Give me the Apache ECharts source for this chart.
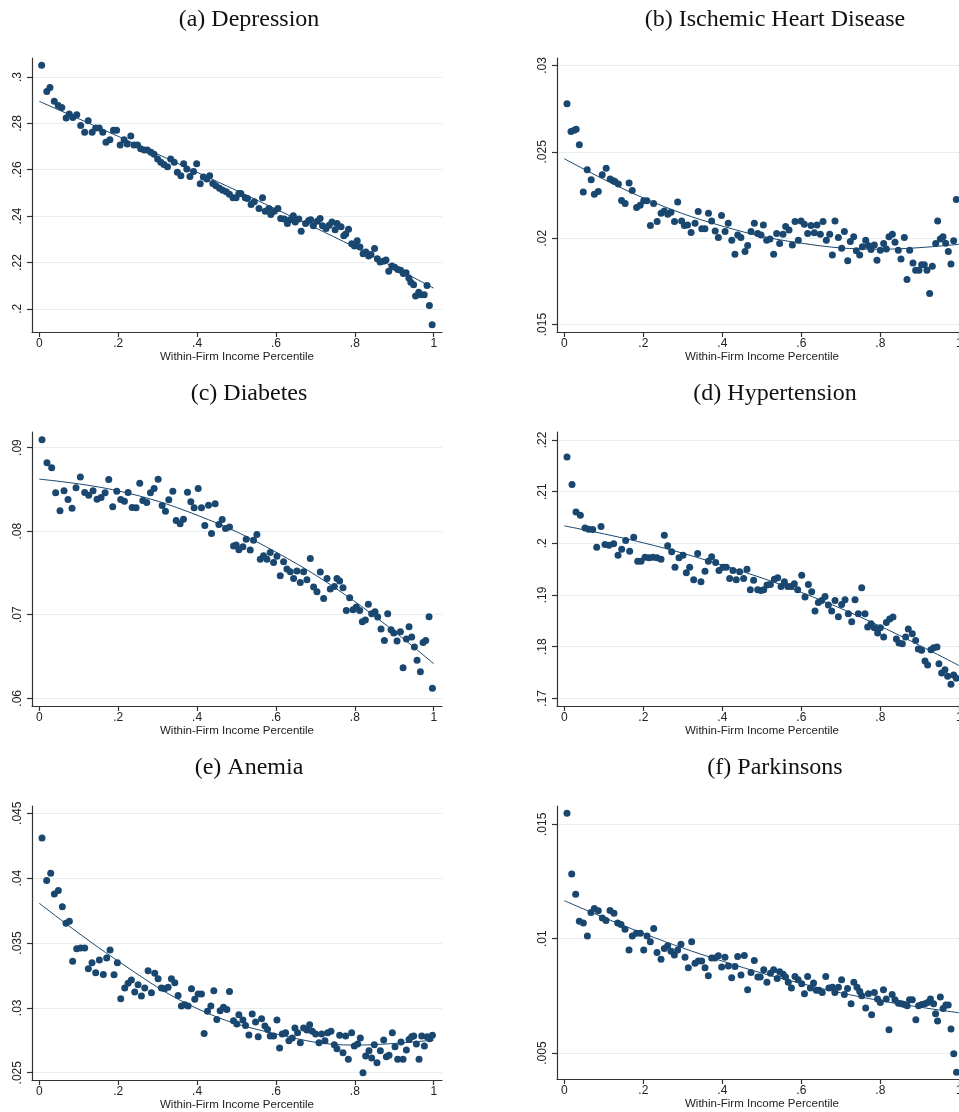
<!DOCTYPE html>
<html><head><meta charset="utf-8">
<script src="https://cdn.jsdelivr.net/npm/echarts@6/dist/echarts.min.js"></script>
<style>html,body{margin:0;padding:0;background:#fff}#c{width:959px;height:1112px}</style>
</head><body><div id="c"></div>
<script>
// ---------- DATA ----------
const titles = ["(a) Depression", "(b) Ischemic Heart Disease", "(c) Diabetes", "(d) Hypertension", "(e) Anemia", "(f) Parkinsons"];
const xAxisTitle = "Within-Firm Income Percentile";
const xTicks = [0, 0.2, 0.4, 0.6, 0.8, 1];
const yTicksA = [0.2, 0.22, 0.24, 0.26, 0.28, 0.3];
const yTicksB = [0.015, 0.02, 0.025, 0.03];
const yTicksC = [0.06, 0.07, 0.08, 0.09];
const yTicksD = [0.17, 0.18, 0.19, 0.2, 0.21, 0.22];
const yTicksE = [0.025, 0.03, 0.035, 0.04, 0.045];
const yTicksF = [0.005, 0.01, 0.015];

// (a) Depression
const xA = [0.006,0.019,0.027,0.038,0.048,0.057,0.068,0.076,0.085,0.095,0.105,0.115,0.124,0.134,0.143,0.152,0.161,0.169,0.179,0.188,0.196,0.205,0.215,0.223,0.232,0.240,0.249,0.257,0.266,0.274,0.283,0.291,0.300,0.308,0.316,0.325,0.333,0.342,0.350,0.359,0.366,0.374,0.382,0.391,0.399,0.408,0.416,0.425,0.432,0.440,0.448,0.457,0.465,0.474,0.482,0.491,0.499,0.506,
0.511,0.522,0.528,0.537,0.545,0.557,0.566,0.573,0.582,0.587,0.596,0.605,0.612,0.621,0.629,0.636,0.644,0.649,0.658,0.664,0.675,0.683,0.688,0.695,0.705,0.712,0.718,0.727,0.735,0.742,0.750,0.755,0.765,0.772,0.777,0.784,0.792,0.799,0.806,0.813,0.821,0.828,0.835,0.841,0.850,0.857,0.864,0.872,0.879,0.886,0.894,0.901,0.909,0.916,0.923,0.930,0.937,0.942,0.949,0.954,0.962,0.967,0.976,0.983,0.989,0.996];
const yA = [0.3051,0.2938,0.2955,0.2895,0.2877,0.2869,0.2823,0.2840,0.2825,0.2837,0.2791,0.2762,0.2811,0.2762,0.2780,0.2780,0.2762,0.2719,0.2729,0.2770,0.2770,0.2707,0.2729,0.2711,0.2745,0.2707,0.2707,0.2690,0.2685,0.2685,0.2675,0.2667,0.2646,0.2632,0.2623,0.2613,0.2646,0.2632,0.2589,0.2574,0.2626,0.2603,0.2571,0.2592,0.2626,0.2540,0.2569,0.2560,0.2574,0.2541,0.2531,0.2520,0.2512,0.2505,0.2494,0.2479,0.2479,0.2498,
0.2498,0.2479,0.2476,0.2450,0.2462,0.2433,0.2479,0.2421,0.2433,0.2407,0.2421,0.2433,0.2390,0.2387,0.2368,0.2384,0.2401,0.2375,0.2387,0.2335,0.2368,0.2381,0.2384,0.2358,0.2378,0.2390,0.2358,0.2346,0.2361,0.2375,0.2341,0.2368,0.2354,0.2315,0.2323,0.2343,0.2281,0.2271,0.2294,0.2267,0.2238,0.2245,0.2228,0.2234,0.2260,0.2216,0.2202,0.2205,0.2211,0.2162,0.2185,0.2179,0.2170,0.2166,0.2152,0.2156,0.2133,0.2115,0.2104,0.2055,0.2072,0.2061,0.2061,0.2101,0.2014,0.1931];

// (b) Ischemic Heart Disease
const xB = [0.0068,0.017,0.025,0.030,0.038,0.048,0.058,0.068,0.076,0.086,0.096,0.106,0.116,0.124,0.128,0.137,0.145,0.154,0.164,0.172,0.183,0.192,0.201,0.209,0.218,0.226,0.235,0.245,0.253,0.262,0.270,0.279,0.287,0.297,0.304,0.312,0.321,0.331,0.339,0.348,0.356,0.365,0.373,0.382,0.390,0.398,0.407,0.415,0.424,0.432,0.439,0.447,
0.4575,0.4642,0.4727,0.4811,0.4896,0.4981,0.504,0.5123,0.5207,0.53,0.5376,0.5452,0.5537,0.5604,0.5689,0.5773,0.5841,0.5925,0.5993,0.6077,0.6161,0.6246,0.633,0.6398,0.6482,0.655,0.6634,0.6719,0.6786,0.6853,0.6938,0.7022,0.709,0.7175,0.7241,0.7326,0.7393,0.7478,0.7545,0.763,0.7697,0.7765,0.7849,0.7916,0.8001,0.8085,0.8153,0.822,0.8305,0.8372,0.8456,0.8524,0.8608,0.8676,0.8743,0.8827,0.8895,0.8979,0.9046,0.9114,0.9181,0.9249,0.9317,0.9402,0.9452,0.9519,0.9587,0.9655,0.9722,0.9789,0.9857,0.9924];
const yB = [0.02778,0.02618,0.02625,0.02630,0.02541,0.02268,0.02396,0.02338,0.02255,0.0227,0.02367,0.02405,0.02342,0.02332,0.02328,0.02313,0.02218,0.02201,0.0232,0.02276,0.02178,0.0219,0.02216,0.02216,0.02073,0.02201,0.02097,0.02145,0.02158,0.02139,0.0215,0.02097,0.02209,0.021,0.02073,0.02077,0.02033,0.02087,0.02154,0.02054,0.02054,0.02145,0.021,0.02042,0.02004,0.02131,0.02039,0.02087,0.01988,0.01907,0.02019,0.02004,
0.01923,0.01958,0.02039,0.02087,0.02027,0.02019,0.02077,0.01988,0.01996,0.01907,0.02027,0.01969,0.02023,0.02068,0.02048,0.01961,0.02097,0.01988,0.021,0.02081,0.02027,0.02073,0.02031,0.02077,0.02023,0.02097,0.01988,0.02023,0.01903,0.021,0.02004,0.01942,0.02039,0.01869,0.01981,0.02008,0.01927,0.01903,0.0195,0.01988,0.01958,0.01934,0.01961,0.01873,0.0193,0.01969,0.01938,0.02008,0.02023,0.01977,0.0193,0.0188,0.02004,0.01761,0.0193,0.01857,0.01815,0.01815,0.01846,0.01846,0.01815,0.0168,0.01838,0.01969,0.021,0.01996,0.02008,0.01971,0.01923,0.0185,0.01985,0.02224];

// (c) Diabetes
const xC = [0.0069,0.0195,0.0314,0.0415,0.0525,0.0627,0.0728,0.083,0.0931,0.1041,0.1151,0.1253,0.1363,0.1464,0.1566,0.1668,0.1761,0.1862,0.1964,0.2065,0.2158,0.2251,0.2353,0.2454,0.2547,0.2624,0.2725,0.2818,0.2911,0.3013,0.3114,0.3199,0.3283,0.3385,0.347,0.3571,0.3656,0.3757,0.3842,0.3926,0.4028,0.4112,0.4197,0.429,0.4366,0.4459,0.4553,0.4637,0.4722,0.4823,0.4925,0.4992,0.506,
0.5162,0.5246,0.5348,0.5432,0.5517,0.5602,0.5686,0.5771,0.5855,0.594,0.6025,0.6109,0.6194,0.6278,0.6363,0.6448,0.6532,0.6617,0.6701,0.6786,0.6871,0.6955,0.704,0.7124,0.7209,0.7294,0.7378,0.748,0.7547,0.7615,0.77,0.7784,0.7869,0.7954,0.8038,0.8123,0.819,0.8267,0.8343,0.8427,0.8512,0.858,0.8664,0.8749,0.8833,0.8918,0.8986,0.907,0.9155,0.9223,0.9307,0.9375,0.9442,0.951,0.9578,0.9662,0.973,0.9798,0.9882,0.9967];
const yC = [0.09092,0.08817,0.08757,0.08458,0.08243,0.08482,0.08378,0.08275,0.08518,0.08649,0.08462,0.0843,0.08482,0.08382,0.08402,0.08458,0.08618,0.08291,0.08478,0.08378,0.08359,0.08462,0.08283,0.08279,0.08574,0.08367,0.08343,0.08458,0.0851,0.08622,0.08307,0.08239,0.08375,0.08478,0.08127,0.08088,0.08143,0.08466,0.08351,0.08279,0.0851,0.08279,0.08068,0.08311,0.07972,0.08327,0.0808,0.0814,0.08032,0.08048,0.07821,0.07833,0.07777,
0.07813,0.07904,0.07773,0.07892,0.0796,0.07665,0.07705,0.07665,0.07745,0.07625,0.07701,0.07466,0.07633,0.07546,0.07514,0.07434,0.07522,0.07386,0.07514,0.07418,0.07673,0.07331,0.07275,0.0751,0.07195,0.07434,0.07307,0.07339,0.07434,0.07402,0.07323,0.07052,0.07203,0.0706,0.07092,0.07052,0.06916,0.06936,0.07124,0.07012,0.07036,0.06972,0.06829,0.06693,0.07012,0.06821,0.06781,0.06685,0.06797,0.06367,0.06709,0.06857,0.06733,0.06614,0.06454,0.06319,0.06669,0.06693,0.06976,0.0612];

// (d) Hypertension
const xD = [0.0068,0.0195,0.0296,0.0406,0.0524,0.0617,0.0719,0.082,0.093,0.103,0.1132,0.125,0.136,0.1453,0.1554,0.1655,0.1757,0.1858,0.1942,0.2043,0.2144,0.2246,0.2347,0.2448,0.2532,0.2617,0.2718,0.2802,0.2904,0.3005,0.3089,0.3174,0.3275,0.3376,0.346,0.3562,0.3646,0.373,0.3832,0.3916,0.4017,0.4102,0.4186,0.427,0.4354,0.4439,0.454,0.4624,0.4709,0.4793,
0.4896,0.4981,0.5048,0.5132,0.5217,0.5318,0.5402,0.5487,0.5571,0.5656,0.574,0.5824,0.5909,0.601,0.6094,0.6179,0.6263,0.6347,0.6432,0.6516,0.6601,0.6685,0.6769,0.6854,0.6938,0.7022,0.7107,0.7191,0.7276,0.736,0.7444,0.7529,0.7613,0.768,0.7765,0.7849,0.7933,0.8001,0.8085,0.8153,0.8237,0.8321,0.8406,0.8473,0.8557,0.8642,0.8709,0.881,0.8895,0.8962,0.9046,0.9131,0.9198,0.9283,0.935,0.9435,0.9485,0.9553,0.9637,0.9705,0.9789,0.9857,0.9924];
const yD = [0.21671,0.21137,0.20608,0.20544,0.20299,0.20273,0.20267,0.19925,0.20325,0.19977,0.19964,0.1999,0.19771,0.19887,0.20054,0.19848,0.20119,0.19655,0.19655,0.19732,0.19719,0.19732,0.19719,0.19693,0.20157,0.19951,0.19835,0.19539,0.19719,0.19771,0.19429,0.19539,0.19294,0.19803,0.19255,0.19461,0.19655,0.19738,0.19629,0.19474,0.19539,0.19539,0.1932,0.19474,0.19294,0.19448,0.1932,0.195,0.191,0.19287,
0.191,0.19088,0.191,0.19191,0.19204,0.19307,0.19332,0.19165,0.19255,0.19165,0.19165,0.19216,0.191,0.19384,0.18959,0.19204,0.19062,0.18688,0.18856,0.18894,0.18972,0.18804,0.18688,0.18894,0.18579,0.18817,0.18907,0.18637,0.18482,0.18907,0.18637,0.19139,0.18637,0.18379,0.18443,0.18366,0.18263,0.18366,0.18186,0.18469,0.18534,0.18572,0.18147,0.1807,0.18057,0.18186,0.1834,0.1825,0.18121,0.17954,0.17928,0.17722,0.17644,0.17941,0.1798,0.17992,0.1767,0.1749,0.17554,0.17425,0.17271,0.17451,0.17387];

// (e) Anemia
const xE = [0.0069,0.0187,0.0289,0.0381,0.0483,0.0584,0.0677,0.0762,0.0846,0.0948,0.105,0.1151,0.1244,0.1337,0.143,0.1523,0.1624,0.1709,0.1794,0.1895,0.198,0.2065,0.2166,0.2251,0.2335,0.242,0.2504,0.2589,0.2674,0.2758,0.2843,0.2927,0.3012,0.3097,0.3181,0.3266,0.335,0.3435,0.3519,0.3604,0.3689,0.3773,0.3858,0.3942,0.4027,0.4112,0.4179,0.4264,0.4349,0.4425,0.4501,0.4585,0.467,0.4755,0.4822,0.4924,0.5008,0.5059,
0.5162,0.5229,0.5314,0.5398,0.5483,0.555,0.5635,0.572,0.5787,0.5855,0.594,0.6025,0.6092,0.616,0.6245,0.6329,0.6414,0.6481,0.6549,0.6617,0.6701,0.6786,0.6854,0.6921,0.7006,0.7091,0.7158,0.7243,0.731,0.7395,0.748,0.7547,0.7615,0.77,0.7767,0.7835,0.7919,0.7987,0.8072,0.8139,0.8207,0.8275,0.8359,0.8427,0.8494,0.8562,0.8647,0.8731,0.8799,0.8867,0.8951,0.9019,0.9087,0.9171,0.9222,0.9307,0.9375,0.9442,0.9493,0.9561,0.9628,0.9696,0.9764,0.9832,0.9899,0.9967];
const yE = [0.0431,0.03981,0.04037,0.03878,0.03904,0.0378,0.03652,0.03667,0.03359,0.03456,0.03461,0.03461,0.03302,0.03348,0.03271,0.03369,0.03258,0.03384,0.03446,0.03256,0.03348,0.03071,0.03153,0.03189,0.03215,0.03122,0.03179,0.03091,0.03153,0.03287,0.03117,0.03266,0.03225,0.03153,0.03148,0.03158,0.03225,0.03194,0.03096,0.03014,0.03024,0.03014,0.03148,0.03066,0.03107,0.03107,0.02803,0.02973,0.03014,0.03132,0.02911,0.02978,0.03004,0.02988,0.03127,0.02901,0.02875,0.02947,
0.02906,0.02865,0.0279,0.02952,0.02891,0.02778,0.02916,0.0286,0.02834,0.02783,0.02783,0.02906,0.0269,0.02798,0.02808,0.02747,0.02767,0.02844,0.02808,0.02731,0.02844,0.02829,0.0287,0.02819,0.02798,0.02731,0.02798,0.02747,0.02808,0.02819,0.02716,0.02685,0.02788,0.02654,0.02783,0.02603,0.02808,0.02706,0.02721,0.02767,0.025,0.02629,0.0267,0.02613,0.02716,0.02577,0.0267,0.02752,0.02623,0.02634,0.02808,0.02701,0.02603,0.02737,0.02603,0.02675,0.02757,0.02778,0.02783,0.02721,0.02603,0.02783,0.02706,0.02778,0.02762,0.02788];

// (f) Parkinsons
const xF = [0.0068,0.0187,0.0288,0.038,0.0482,0.0584,0.0675,0.076,0.0861,0.0963,0.1056,0.1157,0.1258,0.1351,0.1435,0.1537,0.1638,0.1722,0.1824,0.1925,0.201,0.2094,0.2178,0.2263,0.2347,0.2448,0.2532,0.2617,0.2701,0.2786,0.287,0.2954,0.3056,0.314,0.3224,0.3309,0.3393,0.3478,0.3562,0.3646,0.373,0.3814,0.39,0.3984,0.4068,0.4152,0.4237,0.4321,0.4389,0.4473,0.4557,0.4641,0.4726,0.481,
0.490,0.496,0.505,0.513,0.522,0.530,0.539,0.545,0.554,0.560,0.567,0.575,0.584,0.592,0.601,0.608,0.616,0.623,0.631,0.638,0.645,0.653,0.662,0.670,0.679,0.685,0.694,0.702,0.709,0.717,0.726,0.733,0.741,0.748,0.753,0.763,0.770,0.778,0.785,0.793,0.800,0.808,0.815,0.822,0.830,0.837,0.846,0.854,0.861,0.868,0.874,0.881,0.890,0.897,0.905,0.913,0.920,0.927,0.935,0.940,0.945,0.952,0.959,0.966,0.972,0.979,0.986,0.993];
const yF = [0.01548,0.01283,0.01194,0.01076,0.01068,0.01012,0.01114,0.01132,0.01122,0.0109,0.01079,0.01123,0.01111,0.01068,0.01062,0.01041,0.00951,0.01012,0.01024,0.01024,0.00951,0.01012,0.00986,0.01044,0.0094,0.0091,0.00957,0.00969,0.00945,0.00929,0.00951,0.00976,0.00919,0.00873,0.00986,0.00893,0.00902,0.00902,0.00873,0.00838,0.00916,0.00916,0.00925,0.00876,0.00919,0.00881,0.00829,0.00878,0.00922,0.00841,0.00926,0.00777,0.00852,0.00905,
0.00832,0.00832,0.00864,0.00809,0.00849,0.00864,0.00826,0.00855,0.00844,0.00832,0.00809,0.00784,0.00835,0.0082,0.00803,0.00759,0.00835,0.00784,0.00806,0.00774,0.00774,0.00765,0.00835,0.00784,0.00788,0.00765,0.00788,0.0082,0.00756,0.00782,0.00715,0.00809,0.00788,0.00769,0.0075,0.00697,0.00759,0.00667,0.00765,0.00736,0.00721,0.00777,0.00736,0.00602,0.00756,0.00733,0.00718,0.00715,0.00712,0.00707,0.00733,0.00733,0.00646,0.00707,0.00712,0.00715,0.00721,0.00736,0.00715,0.00672,0.0064,0.00745,0.00695,0.0071,0.0071,0.00605,0.00497,0.00416];

// fitted curves at these x positions
const fitX = [0, 0.2, 0.4, 0.6, 0.8, 1];
const fitA = [0.2895, 0.2744, 0.2589, 0.2430, 0.2266, 0.2089];
const fitB = [0.0246, 0.02233, 0.0207, 0.01971, 0.01936, 0.01965];
const fitC = [0.08622, 0.08482, 0.08191, 0.07749, 0.07157, 0.06414];
const fitD = [0.20338, 0.2001, 0.19577, 0.1905, 0.18395, 0.17631];
const fitE = [0.03806, 0.0336, 0.02995, 0.02799, 0.02713, 0.02752];
const fitF = [0.01166, 0.01023, 0.00902, 0.00804, 0.00729, 0.00676];

// ---------- LAYOUT ----------
const NAVY = '#1a476f';
const LEFT_X = [-0.0185, 1.021];
const RIGHT_X = [-0.0185, 1.0195];
const panels = [
  {x: xA, y: yA, fit: fitA, ticks: yTicksA, range: [0.19, 0.3082],   xr: LEFT_X,  grid: {left: 32,  top: 58,  width: 410, height: 274}, tx: 249, ty: 20},
  {x: xB, y: yB, fit: fitB, ticks: yTicksB, range: [0.01457, 0.03043], xr: RIGHT_X, grid: {left: 557, top: 58,  width: 410, height: 274}, tx: 775, ty: 20},
  {x: xC, y: yC, fit: fitC, ticks: yTicksC, range: [0.05908, 0.09186], xr: LEFT_X,  grid: {left: 32,  top: 432, width: 410, height: 274}, tx: 249, ty: 394},
  {x: xD, y: yD, fit: fitD, ticks: yTicksD, range: [0.16851, 0.22155], xr: RIGHT_X, grid: {left: 557, top: 432, width: 410, height: 274}, tx: 775, ty: 394},
  {x: xE, y: yE, fit: fitE, ticks: yTicksE, range: [0.02444, 0.04556], xr: LEFT_X,  grid: {left: 32,  top: 806, width: 410, height: 274}, tx: 249, ty: 768},
  {x: xF, y: yF, fit: fitF, ticks: yTicksF, range: [0.003865, 0.0158], xr: RIGHT_X, grid: {left: 557, top: 806, width: 410, height: 273}, tx: 775, ty: 768}
];

function fmt(v) {
  const s = String(+(+v).toFixed(4));
  return s.startsWith('0.') ? s.slice(1) : s;
}

const AXC = '#333';
const LABEL_FONT = 'Liberation Sans, Arial, sans-serif';
const option = {
  backgroundColor: '#ffffff',
  animation: false,
  grid: [], xAxis: [], yAxis: [], series: [],
  graphic: []
};
panels.forEach((p, i) => {
  option.grid.push(Object.assign({containLabel: false, outerBoundsMode: 'none'}, p.grid));
  option.xAxis.push({
    type: 'value', gridIndex: i, min: p.xr[0], max: p.xr[1],
    name: xAxisTitle, nameLocation: 'middle', nameGap: 17,
    nameTextStyle: {fontFamily: LABEL_FONT, fontSize: 11.5, color: '#222'},
    axisLine: {show: true, onZero: false, lineStyle: {color: AXC, width: 1.2}},
    axisTick: {show: true, length: 5, lineStyle: {color: AXC, width: 1.2}, customValues: xTicks},
    axisLabel: {show: true, margin: 6, fontFamily: LABEL_FONT, fontSize: 12, color: '#222', customValues: xTicks, formatter: fmt, hideOverlap: false},
    splitLine: {show: false}
  });
  option.yAxis.push({
    type: 'value', gridIndex: i, min: p.range[0], max: p.range[1],
    axisLine: {show: true, onZero: false, lineStyle: {color: AXC, width: 1.2}},
    axisTick: {show: true, length: 5, lineStyle: {color: AXC, width: 1.2}, customValues: p.ticks},
    axisLabel: {show: true, rotate: 90, margin: 8, fontFamily: LABEL_FONT, fontSize: 12, color: '#222', customValues: p.ticks, formatter: fmt},
    splitLine: {show: true, lineStyle: {color: '#e6eef0', width: 1}}
  });
  option.series.push({
    type: 'scatter', xAxisIndex: i, yAxisIndex: i,
    data: p.x.map((xv, k) => [xv, p.y[k]]).filter(d => d[1] !== undefined),
    symbol: 'circle', symbolSize: 7,
    itemStyle: {color: NAVY, opacity: 1},
    z: 2
  });
  option.series.push({
    type: 'line', xAxisIndex: i, yAxisIndex: i,
    data: fitX.map((xv, k) => [xv, p.fit[k]]),
    smooth: 0.4, showSymbol: false, symbol: 'none',
    lineStyle: {color: NAVY, width: 1},
    z: 3
  });
  option.graphic.push({
    type: 'text', x: p.tx, y: p.ty,
    style: {text: titles[i], fill: '#111', font: '24px "Liberation Serif", "DejaVu Serif", serif', textAlign: 'center', textVerticalAlign: 'middle'}
  });
});

const chart = echarts.init(document.getElementById('c'), null, {renderer: 'canvas'});
chart.setOption(option);
</script>
</body></html>
